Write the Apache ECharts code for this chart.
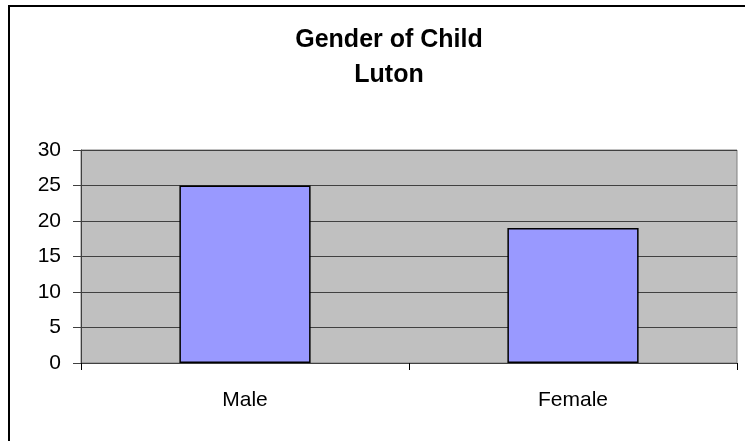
<!DOCTYPE html>
<html>
<head>
<meta charset="utf-8">
<script src="https://cdn.jsdelivr.net/npm/echarts@6/dist/echarts.min.js"></script>
<style>
  html, body { margin: 0; padding: 0; background: #fff; }
  #chart { width: 745px; height: 441px; }
</style>
</head>
<body>
<div id="chart"></div>
<script>
const categories = ["Male", "Female"];
const counts = [25, 19];
const titleLines = ["Gender of Child", "Luton"];

const chart = echarts.init(document.getElementById("chart"));

chart.setOption({
  animation: false,
  backgroundColor: "#ffffff",
  title: {
    text: titleLines.join("\n"),
    left: 384,
    textAlign: "center",
    top: 18,
    textStyle: {
      fontFamily: "Liberation Sans, Arial, sans-serif",
      fontWeight: "bold",
      fontSize: 25,
      lineHeight: 35,
      color: "#000"
    }
  },
  // outer frame, only left and top edges fall inside the picture
  graphic: [{
    type: "rect",
    shape: { x: 9, y: 6, width: 800, height: 500 },
    style: { fill: "none", stroke: "#000", lineWidth: 2 },
    silent: true
  }],
  grid: {
    left: 81,
    right: 8,
    top: 150,
    bottom: 78,
    show: true,
    backgroundColor: "#c0c0c0",
    borderColor: "#808080",
    borderWidth: 1
  },
  xAxis: {
    type: "category",
    data: categories,
    axisLine: { lineStyle: { color: "#404040", width: 1 } },
    axisTick: { show: true, length: 7, lineStyle: { color: "#000" } },
    axisLabel: {
      margin: 27,
      fontSize: 21,
      fontFamily: "Liberation Sans, Arial, sans-serif",
      color: "#000"
    }
  },
  yAxis: {
    type: "value",
    min: 0,
    max: 30,
    interval: 5,
    axisLine: { show: true, lineStyle: { color: "#404040" } },
    axisTick: { show: true, length: 8, lineStyle: { color: "#404040" } },
    splitLine: { lineStyle: { color: "#404040", width: 1 } },
    axisLabel: {
      margin: 20,
      fontSize: 21,
      fontFamily: "Liberation Sans, Arial, sans-serif",
      color: "#000"
    }
  },
  series: [{
    type: "bar",
    data: counts,
    barWidth: "40%",
    itemStyle: {
      color: "#9999ff",
      borderColor: "#000",
      borderWidth: 1.5
    }
  }]
});
</script>
</body>
</html>
